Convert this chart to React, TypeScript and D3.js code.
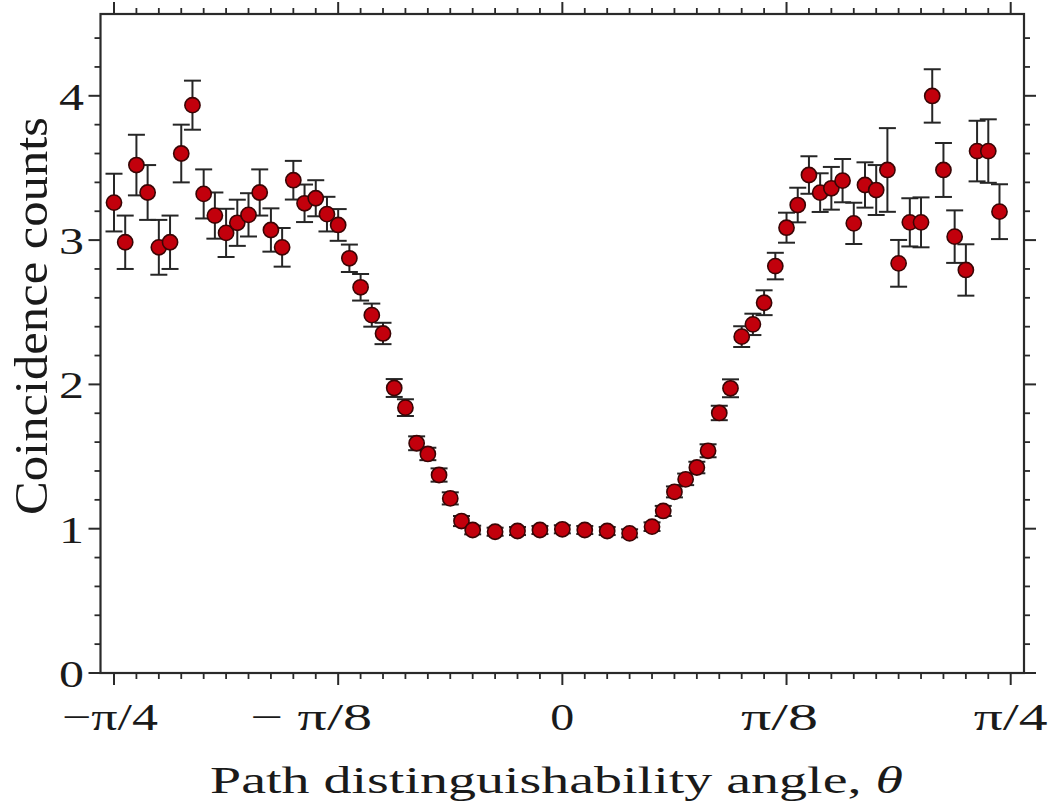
import React from "react";
import * as d3 from "d3";

// angle in degrees (θ), coincidence counts, and error-bar half widths
const angles = [
  -45, -43.875, -42.75, -41.625, -40.5, -39.375, -38.25, -37.125, -36, -34.875,
  -33.75, -32.625, -31.5, -30.375, -29.25, -28.125, -27, -25.875, -24.75, -23.625,
  -22.5, -21.375, -20.25, -19.125, -18, -16.875, -15.75, -14.625, -13.5, -12.375,
  -11.25, -10.125, -9,
  -6.75, -4.5, -2.25, 0, 2.25, 4.5, 6.75,
  9, 10.125, 11.25, 12.375, 13.5, 14.625, 15.75, 16.875, 18, 19.125,
  20.25, 21.375, 22.5, 23.625, 24.75, 25.875, 27, 28.125, 29.25, 30.375,
  31.5, 32.625, 33.75, 34.875, 36, 37.125, 38.25, 39.375, 40.5, 41.625,
  42.75, 43.875,
];
const counts = [
  3.26, 2.985, 3.52, 3.33, 2.95, 2.985, 3.6, 3.935, 3.32, 3.17,
  3.05, 3.12, 3.175, 3.33, 3.07, 2.95, 3.415, 3.255, 3.29, 3.18,
  3.105, 2.874, 2.673, 2.48, 2.353, 1.975, 1.839, 1.592, 1.518, 1.372,
  1.21, 1.053, 0.991,
  0.979, 0.984, 0.991, 0.996, 0.991, 0.984, 0.968,
  1.014, 1.123, 1.255, 1.342, 1.424, 1.54, 1.802, 1.973, 2.331, 2.416,
  2.566, 2.82, 3.086, 3.243, 3.451, 3.329, 3.359, 3.412, 3.116, 3.382,
  3.347, 3.486, 2.839, 3.123, 3.123, 3.999, 3.486, 3.024, 2.793, 3.617,
  3.617, 3.197,
];
const errors = [
  0.2, 0.185, 0.21, 0.19, 0.19, 0.185, 0.2, 0.17, 0.17, 0.16,
  0.167, 0.16, 0.15, 0.16, 0.15, 0.134, 0.134, 0.13, 0.125, 0.12,
  0.11, 0.095, 0.092, 0.08, 0.074, 0.062, 0.058, 0.048, 0.043, 0.046,
  0.042, 0.035, 0.03,
  0.028, 0.028, 0.028, 0.028, 0.028, 0.028, 0.028,
  0.03, 0.035, 0.038, 0.04, 0.04, 0.045, 0.05, 0.062, 0.072, 0.074,
  0.086, 0.092, 0.104, 0.12, 0.13, 0.134, 0.148, 0.15, 0.143, 0.157,
  0.173, 0.29, 0.162, 0.167, 0.173, 0.185, 0.187, 0.182, 0.178, 0.21,
  0.22, 0.19,
];

const xMajorTicks = [-45, -22.5, 0, 22.5, 45];
const xTickLabels = ["\u2212\u03C0/4", "\u2212 \u03C0/8", "0", "\u03C0/8", "\u03C0/4"];
const yMajorTicks = [0, 1, 2, 3, 4];
const yTickLabels = ["0", "1", "2", "3", "4"];
const xTitle = "Path distinguishability angle, ";
const yTitle = "Coincidence counts";

// layout (pixels)
const W = 1054, H = 802;
const frame = { left: 100.5, right: 1024, top: 14, bottom: 673 };
const xLabelLayout = [
  { dx: -4, w: 96 },
  { dx: -27, w: 122 },
  { dx: 0, w: 24 },
  { dx: -7, w: 77 },
  { dx: 0, w: 74 },
];
const FONT = "'Liberation Serif', 'Times New Roman', serif";
const INK = "#2a2a2a";

export default function App() {
  const x = d3.scaleLinear().domain([-45, 45]).range([114, 1010.7]);
  const y = d3.scaleLinear().domain([0, 4]).range([673, 95.8]);

  const xMinor = d3.range(-45, 45.001, 2.25).filter((v) => !xMajorTicks.some((m) => Math.abs(m - v) < 1e-6));
  const yTopVal = y.invert(frame.top);
  const yMinor = d3.range(0, yTopVal, 0.2).filter((v) => Math.abs(v - Math.round(v)) > 1e-6);

  const points = angles.map((a, i) => ({ a, c: counts[i], e: errors[i] }));
  const majLen = 12, minLen = 6;

  return (
    <svg width={W} height={H} style={{ position: "absolute", left: 0, top: 0, background: "#fff" }}>
      <rect x={0} y={0} width={W} height={H} fill="#fff" />
      {/* frame */}
      <rect x={frame.left} y={frame.top} width={frame.right - frame.left} height={frame.bottom - frame.top}
        fill="none" stroke={INK} strokeWidth={2.2} />
      {/* x ticks bottom & top */}
      {xMajorTicks.map((v) => (
        <g key={"xm" + v} stroke={INK} strokeWidth={2}>
          <line x1={x(v)} x2={x(v)} y1={frame.bottom} y2={frame.bottom + majLen} />
          <line x1={x(v)} x2={x(v)} y1={frame.top} y2={frame.top - majLen} />
        </g>
      ))}
      {xMinor.map((v) => (
        <g key={"xn" + v} stroke={INK} strokeWidth={1.8}>
          <line x1={x(v)} x2={x(v)} y1={frame.bottom} y2={frame.bottom + minLen} />
          <line x1={x(v)} x2={x(v)} y1={frame.top} y2={frame.top - minLen} />
        </g>
      ))}
      {/* y ticks left & right */}
      {yMajorTicks.map((v) => (
        <g key={"ym" + v} stroke={INK} strokeWidth={2}>
          <line x1={frame.left} x2={frame.left - majLen} y1={y(v)} y2={y(v)} />
          <line x1={frame.right} x2={frame.right + majLen} y1={y(v)} y2={y(v)} />
        </g>
      ))}
      {yMinor.map((v) => (
        <g key={"yn" + v} stroke={INK} strokeWidth={1.8}>
          <line x1={frame.left} x2={frame.left - minLen} y1={y(v)} y2={y(v)} />
          <line x1={frame.right} x2={frame.right + minLen} y1={y(v)} y2={y(v)} />
        </g>
      ))}
      {/* tick labels */}
      {yMajorTicks.map((v, i) => (
        <text key={"yl" + v} x={84} y={y(v) + 14} textAnchor="end" fontFamily={FONT} fontSize={38}
          fill="#1a1a1a" textLength={25} lengthAdjust="spacingAndGlyphs">{yTickLabels[i]}</text>
      ))}
      {xMajorTicks.map((v, i) => (
        <text key={"xl" + v} x={x(v) + xLabelLayout[i].dx} y={730} textAnchor="middle" fontFamily={FONT}
          fontSize={38} fill="#1a1a1a" textLength={xLabelLayout[i].w} lengthAdjust="spacingAndGlyphs">
          {xTickLabels[i]}
        </text>
      ))}
      {/* axis titles */}
      <text x={556.5} y={793} textAnchor="middle" fontFamily={FONT} fontSize={38} fill="#1a1a1a"
        textLength={693} lengthAdjust="spacingAndGlyphs">
        {xTitle}<tspan fontStyle="italic">θ</tspan>
      </text>
      <text transform="translate(47,316) rotate(-90)" textAnchor="middle" fontFamily={FONT} fontSize={47}
        fill="#1a1a1a" textLength={398} lengthAdjust="spacingAndGlyphs">{yTitle}</text>
      {/* error bars */}
      {points.map((p, i) => (
        <g key={"e" + i} stroke="#262626" strokeWidth={2}>
          <line x1={x(p.a)} x2={x(p.a)} y1={y(p.c - p.e)} y2={y(p.c + p.e)} />
          <line x1={x(p.a) - 8.5} x2={x(p.a) + 8.5} y1={y(p.c + p.e)} y2={y(p.c + p.e)} />
          <line x1={x(p.a) - 8.5} x2={x(p.a) + 8.5} y1={y(p.c - p.e)} y2={y(p.c - p.e)} />
        </g>
      ))}
      {/* markers */}
      {points.map((p, i) => (
        <circle key={"c" + i} cx={x(p.a)} cy={y(p.c)} r={7.6} fill="#c2000c" stroke="#3a0505" strokeWidth={1.6} />
      ))}
    </svg>
  );
}
